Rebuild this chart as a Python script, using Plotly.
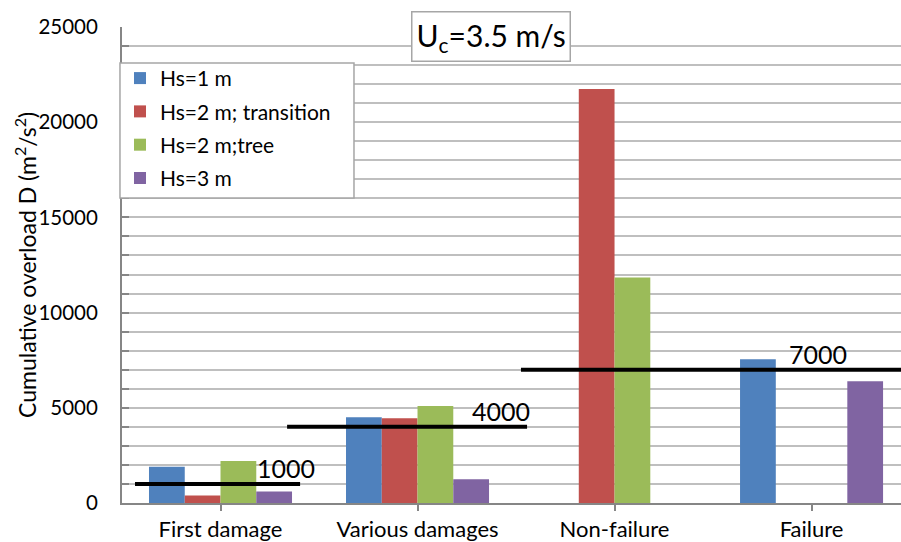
import plotly.graph_objects as go

categories = ["First damage", "Various damages", "Non-failure", "Failure"]
series_names = ["Hs=1 m", "Hs=2 m; transition", "Hs=2 m;tree", "Hs=3 m"]
hs1 = [1900, 4500, 0, 7550]
hs2_transition = [400, 4450, 21750, 0]
hs2_tree = [2200, 5100, 11850, 0]
hs3 = [600, 1250, 0, 6400]
thresholds = [1000, 4000, 7000]
threshold_labels = ["1000", "4000", "7000"]
y_ticks = [0, 5000, 10000, 15000, 20000, 25000]
y_tick_labels = ["0", "5000", "10000", "15000", "20000", "25000"]

colors = ["#4F81BD", "#C0504D", "#9BBB59", "#8064A2"]
FONT = "Lato"

fig = go.Figure()
for i, (name, vals, col) in enumerate(zip(series_names, [hs1, hs2_transition, hs2_tree, hs3], colors)):
    fig.add_trace(go.Bar(x=list(range(len(categories))), y=vals, name=name, legendgroup=f"g{i}",
                         marker=dict(color=col, line=dict(width=0))))

# threshold line extents (category-index units) and label positions
line_spans = [(-0.434, 0.404), (0.338, 1.556), (1.525, 3.6)]
label_x = [0.175, 1.266, 2.876]
for thr, (x0, x1), lx, lab in zip(thresholds, line_spans, label_x, threshold_labels):
    fig.add_shape(type="line", xref="x", yref="y", x0=x0, x1=x1, y0=thr, y1=thr,
                  line=dict(color="black", width=4), layer="above")
    fig.add_annotation(x=lx, y=thr, xref="x", yref="y", text=lab, showarrow=False,
                       xanchor="left", yanchor="bottom", yshift=-1,
                       font=dict(family=FONT, size=25, color="black"))

# legend frame
fig.add_shape(type="rect", xref="paper", yref="paper", x0=-0.0026, x1=0.2978, y0=0.6408, y1=0.9244,
              fillcolor="white", line=dict(color="#A6A6A6", width=1.5), layer="above")

fig.add_annotation(xref="paper", yref="paper", x=0.4737, y=0.979, xanchor="center", yanchor="middle",
                   text="U<sub>c</sub>=3.5 m/s", showarrow=False,
                   font=dict(family=FONT, size=30, color="black"),
                   bordercolor="#A6A6A6", borderwidth=1.5, borderpad=4, bgcolor="white")

# y-axis title
fig.add_annotation(xref="paper", yref="paper", x=0, y=0.5, xshift=-97, xanchor="center", yanchor="middle",
                   text="Cumulative overload D (m<sup>2</sup>/s<sup>2</sup>)", textangle=-90,
                   showarrow=False, font=dict(family=FONT, size=23, color="black"))

fig.update_layout(
    width=901, height=542,
    margin=dict(l=122, r=0, t=27, b=39),
    paper_bgcolor="white", plot_bgcolor="white",
    bargap=0.274, bargroupgap=0,
    font=dict(family=FONT, size=20, color="black"),
    legend=dict(x=-0.0026, y=0.935, xanchor="left", yanchor="top",
                borderwidth=0, bgcolor="rgba(0,0,0,0)",
                font=dict(family=FONT, size=21), tracegroupgap=3, itemwidth=30),
    showlegend=True,
)
fig.update_xaxes(range=[-0.5, 3.454], tickmode="array", tickvals=list(range(4)), ticktext=categories,
                 tickson="boundaries", ticks="outside", ticklen=6, tickcolor="#868686", tickwidth=2,
                 showline=True, linecolor="#868686", linewidth=2, showgrid=False,
                 tickfont=dict(family=FONT, size=22, color="black"))
fig.update_yaxes(range=[0, 25000], tickmode="array", tickvals=y_ticks, ticktext=y_tick_labels,
                 ticks="inside", ticklen=7, tickcolor="#868686", tickwidth=2,
                 ticklabelstandoff=18,
                 showline=True, linecolor="#868686", linewidth=2,
                 showgrid=True, gridcolor="#BFBFBF", gridwidth=1.5,
                 minor=dict(dtick=1000, showgrid=True, gridcolor="#BFBFBF", gridwidth=1.5,
                            ticks="inside", ticklen=7, tickcolor="#868686", tickwidth=2),
                 zeroline=False, tickfont=dict(family=FONT, size=20.5, color="black"))

fig.write_html("out.html", config={"displayModeBar": False},
               post_script="document.body.style.margin='0px';")
